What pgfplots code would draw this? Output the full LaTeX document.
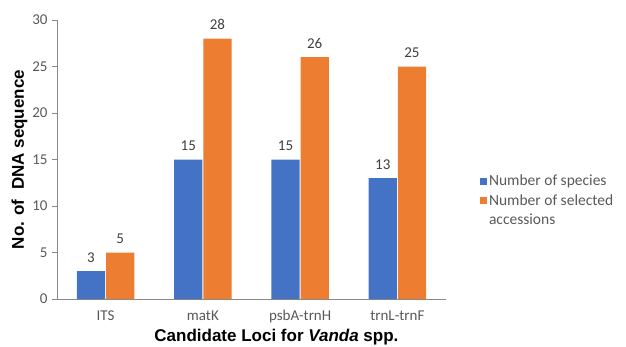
\documentclass[border=0pt]{standalone}
\usepackage{fontspec}
\setmainfont{Carlito}
\newfontfamily\arialfont{Liberation Sans}
\usepackage{pgfplots}
\pgfplotsset{compat=1.18}
\definecolor{barblue}{HTML}{4472C4}
\definecolor{barorange}{HTML}{ED7D31}
\definecolor{axisgray}{HTML}{898989}
\definecolor{ticktext}{HTML}{595959}
\definecolor{labeltext}{HTML}{404040}

\begin{document}
\begin{tikzpicture}
\path[use as bounding box] (-57pt,-47pt) rectangle (569pt,299pt);
\begin{axis}[
  scale only axis, width=389pt, height=279pt,
  xmin=-0.5, xmax=3.5, ymin=0, ymax=30,
  xtick={0,1,2,3},
  xticklabels={ITS, matK, psbA-trnH, trnL-trnF},
  ytick={0,5,...,30},
  axis x line*=bottom, axis y line*=left,
  axis line style={axisgray, line width=0.8pt},
  x tick style={draw=none},
  y tick style={axisgray, line width=0.8pt},
  tick align=outside, major tick length=5pt,
  /pgf/number format/assume math mode=true,
  tick label style={font=\fontsize{15}{17}\selectfont, text=ticktext},
  xticklabel style={yshift=-3pt},
  yticklabel style={xshift=-1pt},
  ylabel={\arialfont\bfseries No. of\ \ DNA sequence},
  ylabel style={font=\fontsize{17}{20}\selectfont, at={(axis description cs:-0.0964,0.5)}, anchor=center},
  xlabel={\arialfont\bfseries Candidate Loci for \textit{Vanda} spp.},
  xlabel style={font=\fontsize{17}{20}\selectfont, at={(axis description cs:0.564,0)}, anchor=base, yshift=-42pt},
  nodes near coords,
  every node near coord/.append style={font=\fontsize{15}{17}\selectfont, text=labeltext, anchor=base, inner sep=0pt, yshift=9pt},
  legend style={font=\fontsize{15.5}{18}\selectfont, text=ticktext, draw=none, fill=none,
    at={(axis description cs:1.087,0.452)}, anchor=north west, inner sep=0pt, row sep=3pt},
  legend cell align=left,
  legend image code/.code={\fill[#1] (-3pt,-3.5pt) rectangle (4pt,3.5pt);},
]
\addplot[ybar, bar width=0.29, bar shift=-0.15, fill=barblue, draw=none,
  every node near coord/.append style={xshift=-14.6pt}]
  coordinates {(0,3) (1,15) (2,15) (3,13)};
\addlegendentry{Number of species}
\addplot[ybar, bar width=0.29, bar shift=0.15, fill=barorange, draw=none,
  every node near coord/.append style={xshift=14.6pt}]
  coordinates {(0,5) (1,28) (2,26) (3,25)};
\addlegendentry{Number of selected}
\addlegendimage{empty legend}
\addlegendentry{accessions}
\end{axis}
\end{tikzpicture}
\end{document}
